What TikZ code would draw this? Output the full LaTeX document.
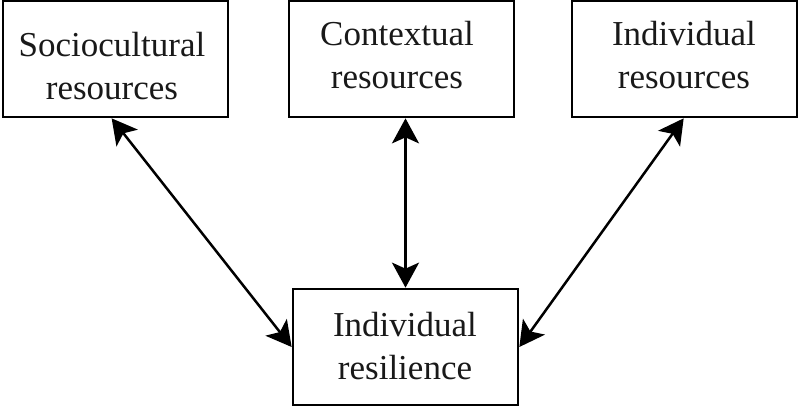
\documentclass[tikz,border=0pt]{standalone}
\usepackage{fontspec}
\setmainfont{Liberation Serif}
\usetikzlibrary{arrows.meta}
\begin{document}
\begin{tikzpicture}[x=1pt,y=-1pt,
  box/.style={draw=black, line width=2.7pt, minimum width=225pt, minimum height=116pt, inner sep=0pt},
  txt/.style={inner sep=0pt, align=center, font=\fontsize{35}{43}\selectfont, text=black!90},
  link/.style={line width=2.5pt, {Stealth[length=25pt,width=27pt,inset=6pt]}-{Stealth[length=25pt,width=27pt,inset=6pt]}}]
\useasboundingbox (0,0) rectangle (800,407);
\node[box] (soc) at (115.5,59) {};
\node[box] (ctx) at (401.5,59) {};
\node[box] (ind) at (684.5,59) {};
\node[box] (res) at (405.5,347) {};
\node[txt] (soct) at (112,66) {Sociocultural\\resources};
\node[txt] (ctxt) at (397,55) {Contextual\\resources};
\node[txt] (indt) at (684,55) {Individual\\resources};
\node[txt] (rest) at (405,346) {Individual\\resilience};
\draw[link] ([xshift=110pt]soc.south west) -- (res.west);
\draw[link] (res.north |- ctx.south) -- (res.north);
\draw[link] ([xshift=113pt]ind.south west) -- (res.east);
\end{tikzpicture}
\end{document}
